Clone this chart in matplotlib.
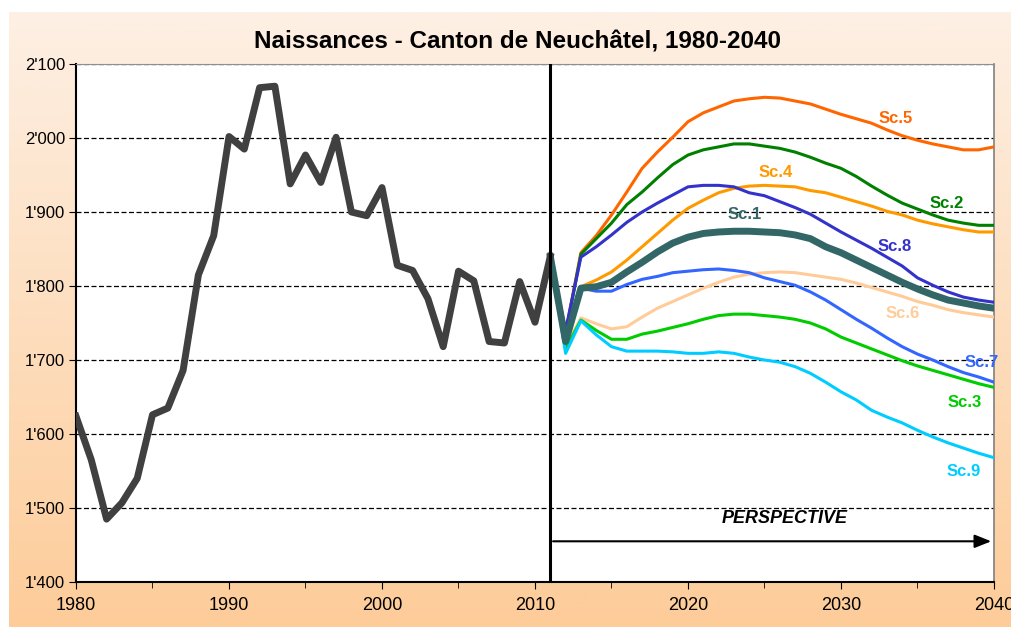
import matplotlib.pyplot as plt
import numpy as np
from matplotlib.ticker import FuncFormatter, MultipleLocator

plt.rcParams["font.family"] = ["Liberation Sans", "DejaVu Sans"]

# Observed births 1980-2011
hist_years = list(range(1980, 2012))
hist_values = [1624, 1565, 1485, 1507, 1540, 1626, 1635, 1686, 1815, 1868,
               2002, 1985, 2068, 2070, 1938, 1977, 1940, 2001, 1900, 1895,
               1933, 1828, 1821, 1783, 1718, 1820, 1807, 1725, 1723, 1806,
               1751, 1840]

# Scenarios 2011-2040
proj_years = list(range(2011, 2041))
sc1 = [1840, 1725, 1797, 1799, 1805, 1819, 1832, 1846, 1858, 1866,
       1871, 1873, 1874, 1874, 1873, 1872, 1869, 1864, 1853, 1845,
       1835, 1825, 1815, 1805, 1796, 1788, 1781, 1777, 1773, 1770]
sc2 = [1840, 1735, 1843, 1864, 1885, 1910, 1927, 1946, 1964, 1977,
       1984, 1988, 1992, 1992, 1989, 1986, 1981, 1974, 1966, 1959,
       1948, 1935, 1923, 1912, 1904, 1896, 1889, 1885, 1882, 1882]
sc3 = [1840, 1715, 1754, 1740, 1728, 1728, 1735, 1739, 1744, 1749,
       1755, 1760, 1762, 1762, 1760, 1758, 1755, 1750, 1742, 1731,
       1723, 1715, 1707, 1699, 1692, 1686, 1680, 1674, 1668, 1663]
sc4 = [1840, 1728, 1799, 1808, 1819, 1835, 1853, 1871, 1889, 1905,
       1916, 1926, 1932, 1935, 1936, 1935, 1934, 1929, 1926, 1920,
       1914, 1908, 1901, 1896, 1889, 1884, 1880, 1876, 1873, 1873]
sc5 = [1840, 1738, 1845, 1868, 1896, 1927, 1959, 1981, 2001, 2022,
       2034, 2042, 2050, 2053, 2055, 2054, 2050, 2046, 2039, 2032,
       2026, 2020, 2011, 2003, 1997, 1992, 1988, 1984, 1984, 1988]
sc6 = [1840, 1718, 1757, 1749, 1742, 1745, 1758, 1770, 1779, 1788,
       1797, 1805, 1812, 1816, 1818, 1819, 1818, 1815, 1812, 1809,
       1804, 1798, 1792, 1786, 1779, 1774, 1768, 1764, 1761, 1758]
sc7 = [1840, 1722, 1797, 1793, 1793, 1802, 1809, 1813, 1818, 1820,
       1822, 1823, 1821, 1818, 1811, 1806, 1801, 1792, 1781, 1768,
       1755, 1743, 1730, 1718, 1708, 1700, 1691, 1683, 1677, 1670]
sc8 = [1840, 1740, 1839, 1853, 1869, 1886, 1900, 1912, 1923, 1934,
       1936, 1936, 1934, 1926, 1922, 1914, 1906, 1897, 1885, 1873,
       1862, 1851, 1839, 1827, 1811, 1801, 1792, 1785, 1781, 1778]
sc9 = [1840, 1709, 1753, 1734, 1718, 1712, 1712, 1712, 1711, 1709,
       1709, 1711, 1709, 1704, 1700, 1697, 1691, 1682, 1670, 1657,
       1646, 1632, 1623, 1615, 1605, 1596, 1588, 1581, 1574, 1568]

# name, values, colour, width, label position (year, value)
scenarios = [
    ("Sc.5", sc5, "#ff6600", 2.2, (2033.6, 2026)),
    ("Sc.2", sc2, "#008000", 2.2, (2036.9, 1911)),
    ("Sc.4", sc4, "#ff9900", 2.2, (2025.7, 1954)),
    ("Sc.8", sc8, "#3333cc", 2.2, (2033.5, 1853)),
    ("Sc.6", sc6, "#ffcc99", 2.2, (2034.0, 1763)),
    ("Sc.7", sc7, "#3366ff", 2.2, (2039.2, 1696)),
    ("Sc.3", sc3, "#00cc00", 2.2, (2038.1, 1643)),
    ("Sc.9", sc9, "#00ccff", 2.2, (2038.0, 1550)),
    ("Sc.1", sc1, "#336666", 5.0, (2023.7, 1896)),
]

fig = plt.figure(figsize=(10.11, 6.27), dpi=100)
fig.patch.set_facecolor("white")

# peach gradient backdrop
bg = fig.add_axes([9 / 1011, 0, 1 - 9 / 1011, 1 - 12 / 627])
grad = np.linspace(0, 1, 256).reshape(-1, 1)
top = np.array([253, 240, 228]) / 255
bot = np.array([253, 204, 153]) / 255
img = top + (bot - top) * grad[:, :, None]
bg.imshow(img, aspect="auto", extent=[0, 1, 0, 1])
bg.set_axis_off()

ax = fig.add_axes([76 / 1011, 1 - 582 / 627, (994 - 76) / 1011, (582 - 64) / 627])
ax.set_facecolor("white")

ax.plot(hist_years, hist_values, color="#404040", lw=5, solid_joinstyle="round", zorder=4)
for name, vals, col, lw, (lx, ly) in scenarios:
    ax.plot(proj_years, vals, color=col, lw=lw, zorder=3 if name != "Sc.1" else 3.5)
    ax.text(lx, ly, name, color=col, fontsize=12, fontweight="bold", ha="center", va="center")

ax.axvline(2011, color="black", lw=2.2, zorder=5)
ax.annotate("", xy=(2040, 1455), xytext=(2011, 1455),
            arrowprops=dict(arrowstyle="-|>,head_length=1.0,head_width=0.4", color="black", lw=1.5))
ax.text(2026.3, 1486, "PERSPECTIVE", fontsize=13, fontweight="bold", style="italic",
        ha="center", va="center")

ax.set_xlim(1980, 2040)
ax.set_ylim(1400, 2100)
ax.xaxis.set_major_locator(MultipleLocator(10))
ax.xaxis.set_minor_locator(MultipleLocator(5))
ax.yaxis.set_major_locator(MultipleLocator(100))
ax.yaxis.set_major_formatter(FuncFormatter(lambda v, p: f"{int(v):,}".replace(",", "'")))
ax.grid(axis="y", which="major", linestyle=(0, (4, 2)), color="black", lw=0.9)
ax.set_axisbelow(True)

ax.tick_params(axis="both", which="both", direction="out", color="black", labelsize=12)
ax.tick_params(axis="x", which="major", length=5, pad=6)
ax.tick_params(axis="x", which="minor", length=4)
ax.tick_params(axis="y", length=5, pad=3)
for lab in ax.get_xticklabels():
    lab.set_family(["Liberation Sans Narrow", "Liberation Sans"])
    lab.set_fontsize(13)

ax.spines["left"].set_color("black")
ax.spines["left"].set_linewidth(1.5)
ax.spines["bottom"].set_color("black")
ax.spines["bottom"].set_linewidth(1.5)
ax.spines["right"].set_color("#808080")
ax.spines["right"].set_linewidth(1.2)
ax.spines["top"].set_color("#909090")
ax.spines["top"].set_linewidth(0.8)

fig.text(517 / 1011, 1 - 42 / 627, "Naissances - Canton de Neuchâtel, 1980-2040",
         fontsize=17.5, fontweight="bold", ha="center", va="center")

fig.savefig("out.png", dpi=100, facecolor=fig.get_facecolor())
